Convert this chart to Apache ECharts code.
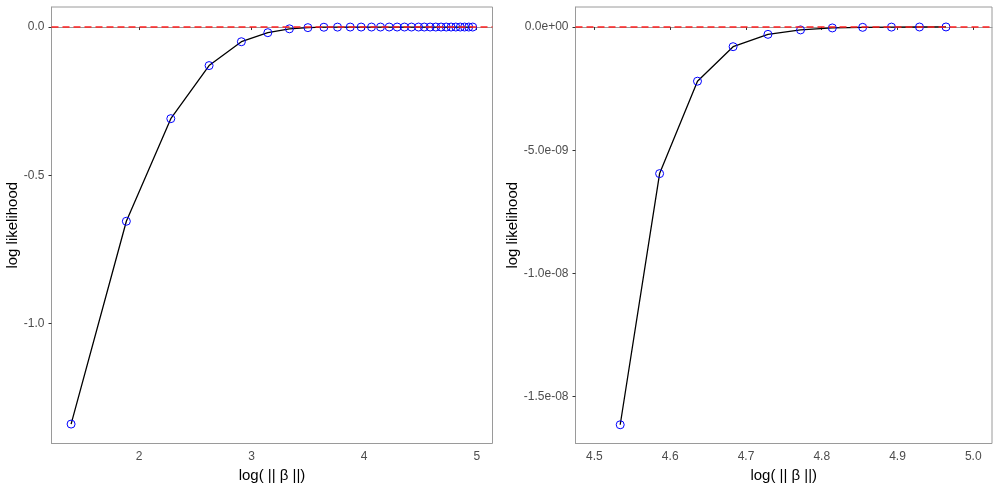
<!DOCTYPE html>
<html>
<head>
<meta charset="utf-8">
<script src="https://cdn.jsdelivr.net/npm/echarts@6/dist/echarts.min.js"></script>
<style>
  html, body { margin: 0; padding: 0; background: #fff; }
  #chart { width: 1000px; height: 493px; }
</style>
</head>
<body>
<div id="chart"></div>
<script>
// left panel: whole path
const leftX = [1.396, 1.887, 2.282, 2.622, 2.909, 3.144, 3.336, 3.500, 3.642, 3.763,
  3.876, 3.973, 4.065, 4.145, 4.222, 4.293, 4.358, 4.420, 4.483,
  4.534, 4.586, 4.636, 4.683, 4.729, 4.772, 4.814, 4.854, 4.892, 4.929, 4.964];
const leftY = [-1.339, -0.655, -0.309, -0.130, -0.0495, -0.019, -0.006, -0.002, -0.0006, -0.0002,
  -0.00006, -0.00002, 0, 0, 0, 0, 0, 0, 0,
  0, 0, 0, 0, 0, 0, 0, 0, 0, 0, 0];

// right panel: tail of the path
const rightX = [4.534, 4.586, 4.636, 4.683, 4.729, 4.772, 4.814, 4.854, 4.892, 4.929, 4.964];
const rightY = [-1.614e-8, -5.95e-9, -2.20e-9, -8.0e-10, -3.0e-10, -1.2e-10, -4e-11, -1.5e-11, -5e-12, -2e-12, 0];

const leftXTicks = [2, 3, 4, 5];
const leftYTicks = [-1.0, -0.5, 0.0];
const rightXTicks = [4.5, 4.6, 4.7, 4.8, 4.9, 5.0];
const rightYTicks = [-1.5e-8, -1.0e-8, -5.0e-9, 0];
const rightYLabels = ['-1.5e-08', '-1.0e-08', '-5.0e-09', '0.0e+00'];

const xName = 'log( || \u03b2 ||)';
const yName = 'log likelihood';

const tickColor = '#4d4d4d';
const frameColor = '#9a9a9a';
const font = '"Liberation Sans", Arial, sans-serif';

function pairs(xs, ys) {
  return xs.map((x, i) => [x, ys[i]]);
}

function xAxisOf(grid, min, max, ticks, fmt) {
  return {
    type: 'value', gridIndex: grid, min: min, max: max,
    name: xName, nameLocation: 'middle', nameGap: 25,
    nameTextStyle: { color: '#000', fontSize: 15, fontFamily: font },
    axisLine: { show: true, lineStyle: { color: frameColor, width: 1 } },
    axisTick: { show: true, length: 3, customValues: ticks, lineStyle: { color: '#333' } },
    axisLabel: { customValues: ticks, color: tickColor, fontSize: 12, fontFamily: font, margin: 7, formatter: fmt },
    splitLine: { show: false }
  };
}

function yAxisOf(grid, min, max, ticks, fmt, gap) {
  return {
    type: 'value', gridIndex: grid, min: min, max: max,
    name: yName, nameLocation: 'middle', nameGap: gap, nameRotate: 90,
    nameTextStyle: { color: '#000', fontSize: 15, fontFamily: font },
    axisLine: { show: true, lineStyle: { color: frameColor, width: 1 } },
    axisTick: { show: true, length: 3, customValues: ticks, lineStyle: { color: '#333' } },
    axisLabel: { customValues: ticks, color: tickColor, fontSize: 12, fontFamily: font, margin: 7,
      padding: [2, 0, 0, 0], formatter: fmt },
    splitLine: { show: false }
  };
}

function pathSeries(idx, data) {
  return {
    type: 'line', xAxisIndex: idx, yAxisIndex: idx, data: data,
    symbol: 'circle', symbolSize: 8, showSymbol: true,
    lineStyle: { color: '#000', width: 1.3 },
    itemStyle: { color: 'rgba(0,0,0,0)', borderColor: '#0000ff', borderWidth: 1 },
    animation: false, z: 3,
    markLine: {
      silent: true, symbol: 'none', animation: false, z: 5,
      label: { show: false },
      lineStyle: { color: '#ff2020', type: [7, 4], width: 1.6, opacity: 1 },
      emphasis: { disabled: true },
      data: [{ yAxis: 0 }]
    }
  };
}

const chart = echarts.init(document.getElementById('chart'), null, { renderer: 'canvas' });
chart.setOption({
  backgroundColor: '#fff',
  animation: false,
  grid: [
    { left: 51.5, top: 7, width: 441, height: 436.5, show: true, borderColor: frameColor, borderWidth: 1, backgroundColor: '#fff' },
    { left: 575.5, top: 7, width: 416.5, height: 436.5, show: true, borderColor: frameColor, borderWidth: 1, backgroundColor: '#fff' }
  ],
  xAxis: [
    xAxisOf(0, 1.222, 5.14, leftXTicks, v => String(Math.round(v))),
    xAxisOf(1, 4.475, 5.0247, rightXTicks, v => v.toFixed(1))
  ],
  yAxis: [
    yAxisOf(0, -1.4045, 0.0676, leftYTicks, v => v.toFixed(1), 30),
    yAxisOf(1, -1.69e-8, 8.1e-10, rightYTicks, v => rightYLabels[rightYTicks.findIndex(t => Math.abs(t - v) < 1e-12)] || '', 53)
  ],
  series: [
    pathSeries(0, pairs(leftX, leftY)),
    pathSeries(1, pairs(rightX, rightY))
  ]
});
</script>
</body>
</html>
